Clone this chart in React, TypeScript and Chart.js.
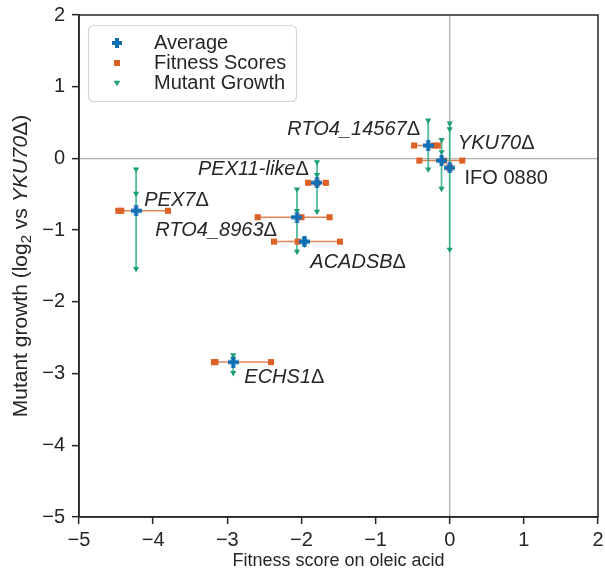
import React, { useEffect, useRef } from 'react';
import { Chart, registerables } from 'chart.js';

Chart.register(...registerables);

// ---------------- data ----------------
const mutants = ['IFO 0880', 'YKU70Δ', 'RTO4_14567Δ', 'PEX11-likeΔ', 'RTO4_8963Δ', 'ACADSBΔ', 'PEX7Δ', 'ECHS1Δ'];

// individual fitness scores on oleic acid (x)
const fitnessIFO = [0, 0, 0];
const fitnessYKU70 = [-0.41, -0.08, 0.17];
const fitnessRTO4_14567 = [-0.48, -0.21, -0.16];
const fitnessPEX11 = [-1.91, -1.79, -1.67];
const fitnessRTO4_8963 = [-2.59, -2.0, -1.62];
const fitnessACADSB = [-2.37, -2.05, -1.48];
const fitnessPEX7 = [-4.47, -4.43, -3.8];
const fitnessECHS1 = [-3.18, -3.16, -2.41];

// individual mutant growth values (y)
const growthIFO = [0.49, 0.41, -1.27];
const growthYKU70 = [0.26, 0.09, -0.42];
const growthRTO4_14567 = [0.53, 0.16, -0.15];
const growthPEX11 = [-0.05, -0.23, -0.74];
const growthRTO4_8963 = [-0.43, -0.73, -1.3];
const growthACADSB = [-1.13, -1.16, -1.2];
const growthPEX7 = [-0.15, -0.49, -1.54];
const growthECHS1 = [-2.74, -2.79, -2.99];

// averages
const avgFitness = [0.0, -0.11, -0.29, -1.79, -2.06, -1.96, -4.23, -2.92];
const avgGrowth = [-0.13, -0.03, 0.18, -0.34, -0.82, -1.16, -0.73, -2.84];

const xTicks = [-5, -4, -3, -2, -1, 0, 1, 2];
const yTicks = [2, 1, 0, -1, -2, -3, -4, -5];

const fitnessScores = [fitnessIFO, fitnessYKU70, fitnessRTO4_14567, fitnessPEX11, fitnessRTO4_8963, fitnessACADSB, fitnessPEX7, fitnessECHS1];
const growthScores = [growthIFO, growthYKU70, growthRTO4_14567, growthPEX11, growthRTO4_8963, growthACADSB, growthPEX7, growthECHS1];

// annotation placement (data coordinates), one per mutant
const labelX = [0.2, 0.11, -0.4, -1.9, -3.97, -1.88, -4.12, -2.77];
const labelY = [-0.28, 0.21, 0.41, -0.16, -1.01, -1.45, -0.59, -3.05];
const labelAlign = ['left', 'left', 'right', 'right', 'left', 'left', 'left', 'left'];

// ---------------- styles ----------------
const FONT = "'Liberation Sans', Arial, Helvetica, sans-serif";
const TEXT = '#262626';
const BLUE = '#0f6fb5';
const ORANGE = '#dc6127';
const ORANGE_LINE = 'rgba(226,110,60,0.85)';
const GREEN = '#1b9e77';
const GREEN_LINE = 'rgba(40,170,130,0.8)';

function fmt(v: number) {
  return v < 0 ? '\u2212' + Math.abs(v) : String(v);
}

function makePlus(size: number, thick: number, color: string) {
  const c = document.createElement('canvas');
  c.width = size;
  c.height = size;
  const g = c.getContext('2d')!;
  g.fillStyle = color;
  const o = (size - thick) / 2;
  g.fillRect(o, 0, thick, size);
  g.fillRect(0, o, size, thick);
  return c;
}

type Seg = { t: string; italic?: boolean; sub?: boolean };

function segFont(s: Seg, size: number) {
  const sz = s.sub ? Math.round(size * 0.7) : size;
  return `${s.italic ? 'italic ' : ''}${sz}px ${FONT}`;
}

function drawSegs(ctx: CanvasRenderingContext2D, segs: Seg[], x: number, y: number, align: string, size: number) {
  let total = 0;
  const widths = segs.map((s) => {
    ctx.font = segFont(s, size);
    const w = ctx.measureText(s.t).width;
    total += w;
    return w;
  });
  let cur = align === 'right' ? x - total : align === 'center' ? x - total / 2 : x;
  ctx.textAlign = 'left';
  ctx.textBaseline = 'middle';
  segs.forEach((s, i) => {
    ctx.font = segFont(s, size);
    ctx.fillText(s.t, cur, y + (s.sub ? size * 0.3 : 0));
    cur += widths[i];
  });
}

function labelSegs(name: string): Seg[] {
  if (name.endsWith('Δ')) return [{ t: name.slice(0, -1), italic: true }, { t: 'Δ' }];
  return [{ t: name }];
}

const overlay = {
  id: 'overlay',
  afterDraw(chart: any) {
    const ctx = chart.ctx as CanvasRenderingContext2D;
    const { left, right, top, bottom } = chart.chartArea;
    const xs = chart.scales.x;
    const ys = chart.scales.y;
    ctx.save();
    // frame (top/right spines)
    ctx.strokeStyle = TEXT;
    ctx.lineWidth = 1.5;
    ctx.strokeRect(left, top, right - left, bottom - top);

    // annotations
    ctx.fillStyle = TEXT;
    mutants.forEach((m, i) => {
      drawSegs(ctx, labelSegs(m), xs.getPixelForValue(labelX[i]), ys.getPixelForValue(labelY[i]), labelAlign[i], 20);
    });

    // axis titles
    drawSegs(ctx, [{ t: 'Fitness score on oleic acid' }], (left + right) / 2, 561, 'center', 18);
    ctx.save();
    ctx.translate(21, (top + bottom) / 2);
    ctx.rotate(-Math.PI / 2);
    drawSegs(
      ctx,
      [
        { t: 'Mutant growth (log' },
        { t: '2', sub: true },
        { t: ' vs ' },
        { t: 'YKU70', italic: true },
        { t: 'Δ' },
        { t: ')' },
      ],
      0,
      0,
      'center',
      21
    );
    ctx.restore();

    // legend
    const lx = 88.5, ly = 25.5, lw = 208, lh = 76, r = 5;
    ctx.beginPath();
    ctx.moveTo(lx + r, ly);
    ctx.arcTo(lx + lw, ly, lx + lw, ly + lh, r);
    ctx.arcTo(lx + lw, ly + lh, lx, ly + lh, r);
    ctx.arcTo(lx, ly + lh, lx, ly, r);
    ctx.arcTo(lx, ly, lx + lw, ly, r);
    ctx.closePath();
    ctx.fillStyle = 'rgba(255,255,255,0.85)';
    ctx.fill();
    ctx.strokeStyle = '#d6d6d6';
    ctx.lineWidth = 1.2;
    ctx.stroke();

    const mx = 117;
    const rows = [43, 63, 83];
    // plus
    ctx.fillStyle = BLUE;
    ctx.fillRect(mx - 2, rows[0] - 5, 4, 10);
    ctx.fillRect(mx - 5, rows[0] - 2, 10, 4);
    // square
    ctx.fillStyle = ORANGE;
    ctx.fillRect(mx - 3, rows[1] - 3, 6, 6);
    // triangle down
    ctx.fillStyle = GREEN;
    ctx.beginPath();
    ctx.moveTo(mx - 3.2, rows[2] - 2.2);
    ctx.lineTo(mx + 3.2, rows[2] - 2.2);
    ctx.lineTo(mx, rows[2] + 3.2);
    ctx.closePath();
    ctx.fill();

    ctx.fillStyle = TEXT;
    ['Average', 'Fitness Scores', 'Mutant Growth'].forEach((t, i) => {
      drawSegs(ctx, [{ t }], 154, rows[i], 'left', 20);
    });
    ctx.restore();
  },
};

export default function App() {
  const ref = useRef<HTMLCanvasElement | null>(null);
  useEffect(() => {
    if (!ref.current) return;
    const plus = makePlus(11, 4, BLUE);

    const lineSets: any[] = [];
    mutants.forEach((m, i) => {
      lineSets.push({
        label: m + ' fitness range',
        data: [...fitnessScores[i]].sort((a, b) => a - b).map((x) => ({ x, y: avgGrowth[i] })),
        showLine: true,
        borderColor: ORANGE_LINE,
        borderWidth: 1.5,
        pointRadius: 0,
        order: 5,
      });
      lineSets.push({
        label: m + ' growth range',
        data: [...growthScores[i]].sort((a, b) => a - b).map((y) => ({ x: avgFitness[i], y })),
        showLine: true,
        borderColor: GREEN_LINE,
        borderWidth: 1.8,
        pointRadius: 0,
        order: 4,
      });
    });

    const fitPts: any[] = [];
    const growPts: any[] = [];
    mutants.forEach((m, i) => {
      fitnessScores[i].forEach((x) => fitPts.push({ x, y: avgGrowth[i] }));
      growthScores[i].forEach((y) => growPts.push({ x: avgFitness[i], y }));
    });

    const chart = new Chart(ref.current, {
      type: 'scatter',
      data: {
        datasets: [
          {
            label: 'Average',
            data: mutants.map((m, i) => ({ x: avgFitness[i], y: avgGrowth[i] })),
            pointStyle: plus as any,
            pointRadius: 6,
            backgroundColor: BLUE,
            borderColor: BLUE,
            order: 1,
          },
          {
            label: 'Fitness Scores',
            data: fitPts,
            pointStyle: 'rect',
            pointRadius: 4.3,
            pointBorderWidth: 0,
            backgroundColor: ORANGE,
            borderColor: ORANGE,
            order: 2,
          },
          {
            label: 'Mutant Growth',
            data: growPts,
            pointStyle: 'triangle',
            pointRotation: 180,
            pointRadius: 3.6,
            pointBorderWidth: 0,
            backgroundColor: GREEN,
            borderColor: GREEN,
            order: 3,
          },
          ...lineSets,
        ],
      },
      options: {
        animation: false,
        responsive: false,
        layout: { padding: { left: 0, top: 15, right: 7, bottom: 0 } },
        plugins: {
          legend: { display: false },
          tooltip: { enabled: false },
        },
        scales: {
          x: {
            type: 'linear',
            min: -5,
            max: 2,
            afterBuildTicks: (s: any) => {
              s.ticks = xTicks.map((v) => ({ value: v }));
            },
            ticks: {
              callback: (v: any) => fmt(Number(v)),
              color: TEXT,
              font: { family: FONT, size: 20 },
              padding: 4,
              maxRotation: 0,
              autoSkip: false,
            },
            grid: {
              drawOnChartArea: true,
              drawTicks: true,
              tickLength: 7,
              tickColor: TEXT,
              tickWidth: 1.5,
              color: (c: any) => (c.tick && c.tick.value === 0 ? '#b0b0b0' : 'rgba(0,0,0,0)'),
              lineWidth: 1.3,
            },
            border: { display: true, color: TEXT, width: 1.5 },
            afterFit: (s: any) => {
              s.height = 56;
              s.paddingLeft = 0;
              s.paddingRight = 0;
            },
          },
          y: {
            type: 'linear',
            min: -5,
            max: 2,
            afterBuildTicks: (s: any) => {
              s.ticks = yTicks.map((v) => ({ value: v }));
            },
            ticks: {
              callback: (v: any) => fmt(Number(v)),
              color: TEXT,
              font: { family: FONT, size: 20 },
              padding: 7,
              autoSkip: false,
            },
            grid: {
              drawOnChartArea: true,
              drawTicks: true,
              tickLength: 7,
              tickColor: TEXT,
              tickWidth: 1.5,
              color: (c: any) => (c.tick && c.tick.value === 0 ? '#b0b0b0' : 'rgba(0,0,0,0)'),
              lineWidth: 1.3,
            },
            border: { display: true, color: TEXT, width: 1.5 },
            afterFit: (s: any) => {
              s.width = 79;
              s.paddingTop = 0;
              s.paddingBottom = 0;
            },
          },
        },
      },
      plugins: [overlay],
    });
    return () => chart.destroy();
  }, []);

  return (
    <div style={{ position: 'fixed', left: 0, top: 0, width: 605, height: 573, background: '#fff' }}>
      <canvas ref={ref} width={605} height={573} style={{ display: 'block' }} />
    </div>
  );
}
